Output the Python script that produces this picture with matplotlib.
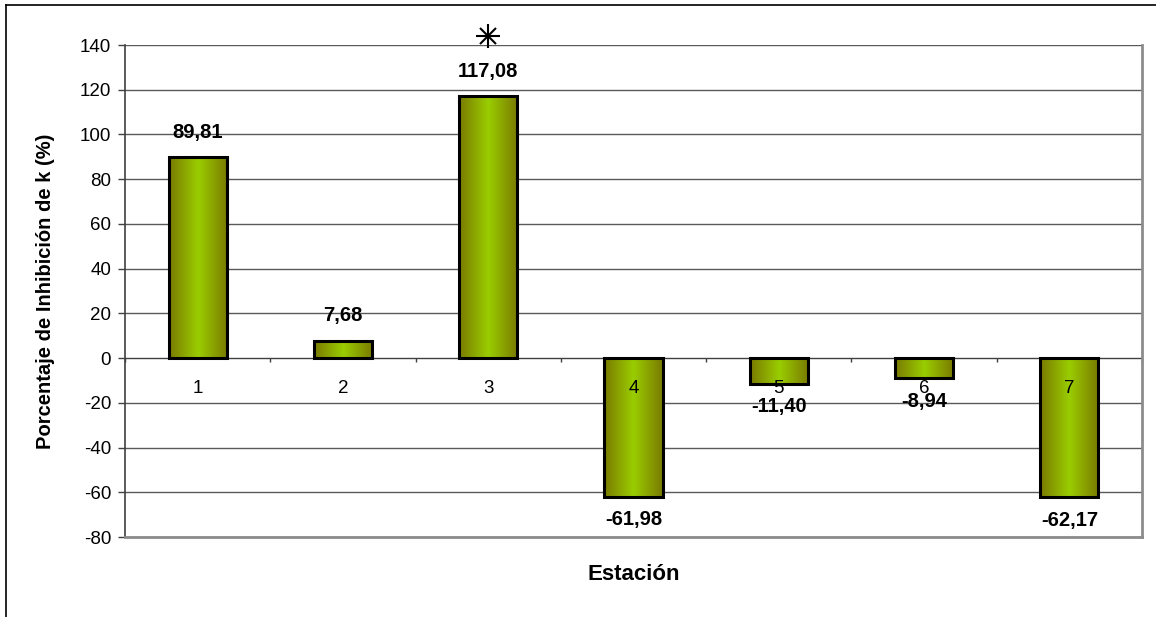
import numpy as np
import matplotlib
matplotlib.use("Agg")
import matplotlib.pyplot as plt
from matplotlib.colors import LinearSegmentedColormap
from matplotlib.lines import Line2D
import matplotlib.transforms as mtransforms

estaciones = ["1", "2", "3", "4", "5", "6", "7"]
inhibicion = [89.81, 7.68, 117.08, -61.98, -11.40, -8.94, -62.17]
etiquetas = ["89,81", "7,68", "117,08", "-61,98", "-11,40", "-8,94", "-62,17"]
significativa = [False, False, True, False, False, False, False]
y_ticks = list(range(-80, 141, 20))

plt.rcParams["font.family"] = ["Liberation Sans", "DejaVu Sans"]

fig = plt.figure(figsize=(11.56, 6.17), dpi=100)
ax = fig.add_axes([125 / 1156, 80 / 617, (1142 - 125) / 1156, (537 - 45) / 617])

x = np.arange(len(estaciones))
ancho = 0.4

# horizontal gridlines
for v in y_ticks:
    ax.axhline(v, color="#5a5a5a" if v != 0 else "#404040", lw=1.0, zorder=1)

# bars with a horizontal olive -> lime -> olive gradient
grad = LinearSegmentedColormap.from_list(
    "oliva", [(0.0, "#7a7a00"), (0.5, "#9acd00"), (1.0, "#7a7a00")])
gradiente = np.linspace(0, 1, 256).reshape(1, -1)
barras = ax.bar(x, inhibicion, width=ancho, facecolor="none",
                edgecolor="black", linewidth=2.2, zorder=4)
for b in barras:
    x0, y0 = b.get_x(), b.get_y()
    w, h = b.get_width(), b.get_height()
    im = ax.imshow(gradiente, cmap=grad, aspect="auto",
                   extent=[x0, x0 + w, min(y0, y0 + h), max(y0, y0 + h)],
                   zorder=3, interpolation="bilinear")
    im.set_clip_path(b)
ax.set_xlim(-0.5, len(estaciones) - 0.5)
ax.set_ylim(-80, 140)

# value labels
for xi, v, t in zip(x, inhibicion, etiquetas):
    desp = 25 if v >= 0 else -23
    ax.annotate(t, (xi, v), xytext=(0, desp), textcoords="offset pixels",
                ha="center", va="center", fontsize=14.5, fontweight="bold",
                zorder=6, annotation_clip=False)

# category labels just under the zero line
for xi, e in zip(x, estaciones):
    ax.annotate(e, (xi, 0), xytext=(0, -30), textcoords="offset pixels",
                ha="center", va="center", fontsize=13.5, zorder=6)

# small tick marks at the category boundaries on the zero line
for xb in np.arange(-0.5, len(estaciones) - 0.5 + 1e-9, 1.0):
    ax.plot([xb], [0], marker=[(0, 0), (0, -1)], ms=6, mew=1.0,
            color="#404040", zorder=2, clip_on=False)

# eight-spoke asterisk above the significant bar
ast_tr = mtransforms.offset_copy(ax.transData, fig=fig, y=60, units="dots")
for xi, v, s in zip(x, inhibicion, significativa):
    if s:
        ax.plot([xi], [v], marker="+", ms=17, mew=1.5, color="black",
                transform=ast_tr, clip_on=False, zorder=7)
        ax.plot([xi], [v], marker="x", ms=12, mew=1.5, color="black",
                transform=ast_tr, clip_on=False, zorder=7)

# axes styling
ax.set_xticks([])
ax.set_yticks(y_ticks)
ax.set_yticklabels([str(v) for v in y_ticks], fontsize=13.5)
ax.tick_params(axis="y", length=5, width=1.0, color="#404040", pad=5)
ax.spines["left"].set_color("#404040")
ax.spines["left"].set_linewidth(1.2)
for s in ["right", "bottom"]:
    ax.spines[s].set_color("#8c8c8c")
    ax.spines[s].set_linewidth(2.0)
ax.spines["top"].set_visible(False)

fig.text(46 / 1156, 1 - 291 / 617, "Porcentaje de Inhibición de k (%)",
         rotation=90, ha="center", va="center", fontsize=14.5, fontweight="bold")
fig.text(634 / 1156, 1 - 575 / 617, "Estación", ha="center", va="center",
         fontsize=16, fontweight="bold")

# outer chart frame (top and left edges)
fig.add_artist(Line2D([6 / 1156, 6 / 1156], [0, 1 - 5 / 617],
                      transform=fig.transFigure, color="black", lw=1.2))
fig.add_artist(Line2D([6 / 1156, 1], [1 - 5 / 617, 1 - 5 / 617],
                      transform=fig.transFigure, color="black", lw=1.2))

fig.savefig("out.png", dpi=100)
